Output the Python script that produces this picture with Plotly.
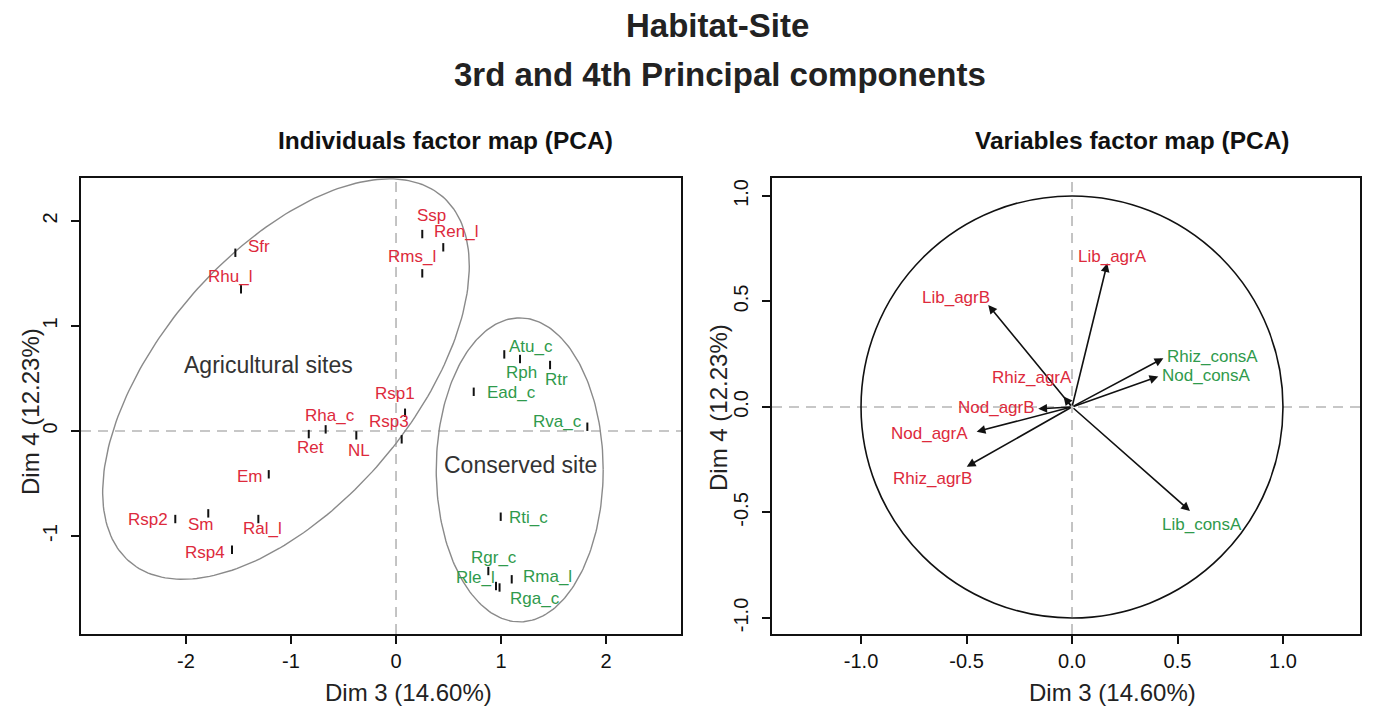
import numpy as np
import plotly.graph_objects as go

# ---- Individuals (PCA scores on Dim 3 / Dim 4) ----
ind_agr_names = ["Sfr", "Rhu_l", "Ssp", "Ren_l", "Rms_l", "Rsp1", "Rsp3", "Rha_c",
                 "Ret", "NL", "Em", "Rsp2", "Sm", "Ral_l", "Rsp4"]
ind_agr_dim3 = [-1.530, -1.476, 0.250, 0.450, 0.250, 0.086, 0.054, -0.670,
                -0.831, -0.378, -1.212, -2.102, -1.788, -1.311, -1.562]
ind_agr_dim4 = [1.698, 1.350, 1.876, 1.750, 1.502, 0.174, -0.079, 0.016,
                -0.029, -0.041, -0.412, -0.838, -0.784, -0.838, -1.130]

ind_cons_names = ["Atu_c", "Rph", "Rtr", "Ead_c", "Rva_c", "Rti_c", "Rgr_c", "Rle_l",
                  "Rma_l", "Rga_c"]
ind_cons_dim3 = [1.031, 1.181, 1.467, 0.740, 1.822, 0.997, 0.879, 0.952, 1.102, 0.986]
ind_cons_dim4 = [0.730, 0.686, 0.629, 0.374, 0.041, -0.816, -1.333, -1.476, -1.412, -1.490]

# ---- Variables (correlations with Dim 3 / Dim 4) ----
var_agr_names = ["Lib_agrA", "Lib_agrB", "Rhiz_agrA", "Nod_agrB", "Nod_agrA", "Rhiz_agrB"]
var_agr_dim3 = [0.167, -0.397, -0.040, -0.160, -0.452, -0.499]
var_agr_dim4 = [0.681, 0.483, 0.050, -0.009, -0.117, -0.283]

var_cons_names = ["Rhiz_consA", "Nod_consA", "Lib_consA"]
var_cons_dim3 = [0.433, 0.409, 0.559]
var_cons_dim4 = [0.231, 0.144, -0.493]

# axis ticks
ind_x_ticks = [-2, -1, 0, 1, 2]
ind_y_ticks = [-1, 0, 1, 2]
var_ticks = [-1.0, -0.5, 0.0, 0.5, 1.0]

# label placement (pixel shifts from the point)
label_shift = {
    "Sfr": (24, 6), "Rhu_l": (-11, 13), "Ssp": (9, 19), "Ren_l": (13, 16),
    "Rms_l": (-10, 17), "Rsp1": (-10, 19), "Rsp3": (-13, 18), "Rha_c": (4, 14),
    "Ret": (2, -13), "NL": (3, -15), "Em": (-19, -2), "Rsp2": (-27, 0),
    "Sm": (-7, -11), "Ral_l": (4, -9), "Rsp4": (-27, -3),
    "Atu_c": (27, 8), "Rph": (1, -13), "Rtr": (6, -14), "Ead_c": (38, -1),
    "Rva_c": (-30, 5), "Rti_c": (28, -1), "Rgr_c": (6, 14), "Rle_l": (-20, 9),
    "Rma_l": (36, 3), "Rga_c": (35, -11),
    "Lib_agrA": (5, 7), "Lib_agrB": (-32, 8), "Rhiz_agrA": (-32, 19),
    "Nod_agrB": (-42, 1), "Nod_agrA": (-47, -2), "Rhiz_agrB": (-34, -12),
    "Rhiz_consA": (49, 2), "Nod_consA": (48, 1), "Lib_consA": (12, -14),
}

RED = "#DD2A3C"
GREEN = "#2F9A4C"
FONT = "Liberation Sans, Arial, Helvetica, sans-serif"
W, H = 1380, 709


def px_x(p):
    return p / W


def px_y(p):
    return 1 - p / H


def fmt_tick(v, dec):
    # plain hyphen for negative numbers
    return f"{v:.{dec}f}"


fig = go.Figure()


# group ellipses on the individuals map
def ellipse(cx, cy, a, b, theta_deg, n=240):
    t = np.linspace(0, 2 * np.pi, n)
    th = np.deg2rad(theta_deg)
    x = cx + a * np.cos(th) * np.cos(t) - b * np.sin(th) * np.sin(t)
    y = cy + a * np.sin(th) * np.cos(t) + b * np.cos(th) * np.sin(t)
    return x, y


ex, ey = ellipse(-1.048, 0.495, 2.29, 1.20, 49.45)
fig.add_trace(go.Scatter(x=ex, y=ey, mode="lines", line=dict(color="#8a8a8a", width=1.4),
                         hoverinfo="skip", showlegend=False, xaxis="x", yaxis="y"))
ex, ey = ellipse(1.178, -0.37, 0.795, 1.448, 0)
fig.add_trace(go.Scatter(x=ex, y=ey, mode="lines", line=dict(color="#8a8a8a", width=1.4),
                         hoverinfo="skip", showlegend=False, xaxis="x", yaxis="y"))

# individual points
for xs, ys in ((ind_agr_dim3, ind_agr_dim4), (ind_cons_dim3, ind_cons_dim4)):
    fig.add_trace(go.Scatter(
        x=xs, y=ys, mode="markers",
        marker=dict(symbol="line-ns", size=6, line=dict(color="#111111", width=2)),
        hoverinfo="skip", showlegend=False, xaxis="x", yaxis="y"))

annotations = []
for names, xs, ys, col in ((ind_agr_names, ind_agr_dim3, ind_agr_dim4, RED),
                           (ind_cons_names, ind_cons_dim3, ind_cons_dim4, GREEN)):
    for n, x, y in zip(names, xs, ys):
        dx, dy = label_shift[n]
        annotations.append(dict(x=x, y=y, xref="x", yref="y", text=n, showarrow=False,
                                xanchor="center", yanchor="middle",
                                xshift=dx, yshift=dy, font=dict(size=17, color=col, family=FONT)))

# variable arrows
for names, xs, ys, col in ((var_agr_names, var_agr_dim3, var_agr_dim4, RED),
                           (var_cons_names, var_cons_dim3, var_cons_dim4, GREEN)):
    for n, x, y in zip(names, xs, ys):
        annotations.append(dict(x=x, y=y, ax=0, ay=0, xref="x2", yref="y2", axref="x2", ayref="y2",
                                text="", showarrow=True, arrowhead=2, arrowsize=1.1,
                                arrowwidth=1.6, arrowcolor="#111111", standoff=0))
        dx, dy = label_shift[n]
        annotations.append(dict(x=x, y=y, xref="x2", yref="y2", text=n, showarrow=False,
                                xanchor="center", yanchor="middle",
                                xshift=dx, yshift=dy, font=dict(size=17, color=col, family=FONT)))


def paper_text(xp, yp, text, size, color, angle=0):
    return dict(x=px_x(xp), y=px_y(yp), xref="paper", yref="paper", text=text,
                showarrow=False, xanchor="center", yanchor="middle", textangle=angle,
                font=dict(size=size, color=color, family=FONT))


# group names
annotations.append(paper_text(268, 365, "Agricultural sites", 23, "#333333"))
annotations.append(paper_text(520, 465, "Conserved site", 23, "#333333"))

# titles and axis titles
annotations += [
    paper_text(718, 26, "<b>Habitat-Site</b>", 33, "#222222"),
    paper_text(720, 74, "<b>3rd and 4th Principal components</b>", 33, "#222222"),
    paper_text(445, 140, "<b>Individuals factor map (PCA)</b>", 24.5, "#111111"),
    paper_text(1132, 140, "<b>Variables factor map (PCA)</b>", 24.5, "#111111"),
    paper_text(408, 692, "Dim 3 (14.60%)", 24, "#222222"),
    paper_text(1112, 692, "Dim 3 (14.60%)", 24, "#222222"),
    paper_text(30, 412, "Dim 4 (12.23%)", 24, "#222222", -90),
    paper_text(718, 407, "Dim 4 (12.23%)", 24, "#222222", -90),
]

# reference lines and correlation circle
dash = dict(color="#b5b5b5", width=1.6, dash="10px,7px")
shapes = [
    dict(type="line", xref="x", yref="y domain", x0=0, x1=0, y0=0, y1=1, line=dash, layer="below"),
    dict(type="line", xref="x domain", yref="y", x0=0, x1=1, y0=0, y1=0, line=dash, layer="below"),
    dict(type="line", xref="x2", yref="y2 domain", x0=0, x1=0, y0=0, y1=1, line=dash, layer="below"),
    dict(type="line", xref="x2 domain", yref="y2", x0=0, x1=1, y0=0, y1=0, line=dash, layer="below"),
    dict(type="circle", xref="x2", yref="y2", x0=-1, x1=1, y0=-1, y1=1,
         line=dict(color="#111111", width=1.6)),
]

axis_common = dict(showgrid=False, zeroline=False, showline=True, mirror=True,
                   linecolor="#111111", linewidth=2, ticks="outside", ticklen=8,
                   tickwidth=1.6, tickcolor="#111111",
                   tickfont=dict(size=20, color="#111111", family=FONT))

y_dom = [px_y(634), px_y(178)]
fig.update_layout(
    width=W, height=H,
    margin=dict(l=0, r=0, t=0, b=0),
    paper_bgcolor="white", plot_bgcolor="white",
    showlegend=False,
    xaxis=dict(domain=[px_x(81), px_x(681)], range=[-3.0, 2.714],
               tickvals=ind_x_ticks, ticktext=[fmt_tick(v, 0) for v in ind_x_ticks],
               **axis_common),
    yaxis=dict(domain=y_dom, range=[-1.933, 2.410], tickvals=ind_y_ticks,
               ticktext=[fmt_tick(v, 0) for v in ind_y_ticks],
               tickangle=-90, ticklabelstandoff=6, **axis_common),
    xaxis2=dict(domain=[px_x(772), px_x(1360)], range=[-1.422, 1.365],
                tickvals=var_ticks, ticktext=[fmt_tick(v, 1) for v in var_ticks],
                anchor="y2", **axis_common),
    yaxis2=dict(domain=y_dom, range=[-1.076, 1.085], tickvals=var_ticks,
                ticktext=[fmt_tick(v, 1) for v in var_ticks],
                tickangle=-90, ticklabelstandoff=6, anchor="x2", **axis_common),
    annotations=annotations,
    shapes=shapes,
)

fig.write_html("out.html")
